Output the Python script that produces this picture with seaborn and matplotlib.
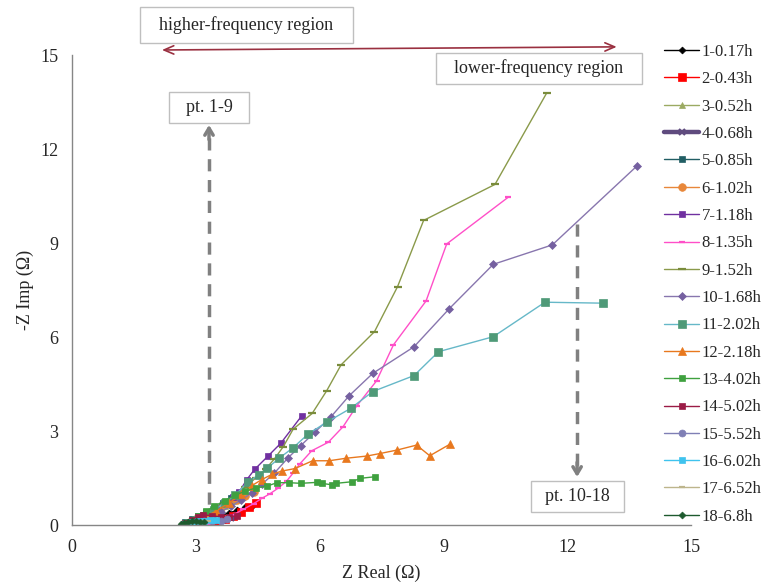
import matplotlib
matplotlib.use("Agg")
import matplotlib.pyplot as plt
from matplotlib.patches import Rectangle
from matplotlib.ticker import MultipleLocator
import seaborn as sns

# impedance spectra, Z real (ohm) vs -Z imp (ohm), one list per time step
labels = ["1-0.17h", "2-0.43h", "3-0.52h", "4-0.68h", "5-0.85h", "6-1.02h",
          "7-1.18h", "8-1.35h", "9-1.52h", "10-1.68h", "11-2.02h", "12-2.18h",
          "13-4.02h", "14-5.02h", "15-5.52h", "16-6.02h", "17-6.52h", "18-6.8h"]

x1 = [2.75, 2.85, 2.95, 3.05, 3.2, 3.4, 3.6, 3.8, 4.0, 4.2, 4.35]
y1 = [0.05, 0.12, 0.18, 0.22, 0.25, 0.27, 0.3, 0.38, 0.47, 0.56, 0.62]
x2 = [2.9, 3.1, 3.3, 3.5, 3.7, 3.9, 4.1, 4.3, 4.47]
y2 = [0.02, 0.0, 0.02, 0.08, 0.18, 0.3, 0.43, 0.57, 0.71]
x3 = [2.8, 2.95, 3.1, 3.3, 3.5, 3.7, 3.9]
y3 = [0.05, 0.15, 0.25, 0.35, 0.48, 0.62, 0.78]
x4 = [2.9, 3.05, 3.25, 3.45, 3.65, 3.85, 4.0]
y4 = [0.05, 0.1, 0.12, 0.12, 0.15, 0.22, 0.3]
x5 = [2.75, 2.9, 3.05, 3.25, 3.45, 3.65, 3.85, 4.05]
y5 = [0.1, 0.2, 0.3, 0.42, 0.55, 0.7, 0.86, 1.02]
x6 = [2.85, 3.0, 3.2, 3.4, 3.6, 3.8, 4.0, 4.2, 4.4]
y6 = [0.08, 0.18, 0.3, 0.42, 0.55, 0.68, 0.8, 0.92, 1.05]
x7 = [2.9, 3.1, 3.3, 3.5, 3.7, 3.89, 4.05, 4.23, 4.43, 4.75, 5.06, 5.57]
y7 = [0.1, 0.25, 0.4, 0.55, 0.72, 0.9, 1.05, 1.44, 1.78, 2.2, 2.61, 3.49]
x8 = [3.3, 3.6, 3.9, 4.15, 4.4, 4.6, 4.8, 5.0, 5.2, 5.36, 5.52, 5.81, 6.21,
      6.57, 6.90, 7.38, 7.79, 8.58, 9.08, 10.57]
y8 = [0.02, 0.15, 0.32, 0.5, 0.68, 0.85, 1.0, 1.18, 1.4, 1.66, 1.95, 2.37, 2.64,
      3.14, 3.80, 4.60, 5.75, 7.15, 8.97, 10.46]
x9 = [2.7, 2.85, 3.0, 3.2, 3.45, 3.7, 3.95, 4.2, 4.45, 4.7, 4.9, 5.12, 5.36,
      5.82, 6.17, 6.52, 7.33, 7.89, 8.52, 10.25, 11.5]
y9 = [0.02, 0.1, 0.2, 0.35, 0.52, 0.72, 0.95, 1.2, 1.5, 1.8, 2.1, 2.5, 3.06,
      3.56, 4.28, 5.11, 6.17, 7.61, 9.72, 10.87, 13.78]
x10 = [2.9, 3.1, 3.35, 3.6, 3.85, 4.1, 4.35, 4.6, 4.9, 5.24, 5.54, 5.90, 6.28,
       6.72, 7.29, 8.29, 9.14, 10.21, 11.64, 13.70]
y10 = [0.05, 0.15, 0.28, 0.42, 0.6, 0.8, 1.02, 1.3, 1.65, 2.15, 2.53, 2.98, 3.46,
       4.13, 4.84, 5.69, 6.9, 8.32, 8.94, 11.47]
x11 = [2.8, 3.0, 3.2, 3.45, 3.7, 3.95, 4.27, 4.53, 4.73, 5.02, 5.36, 5.72, 6.17,
       6.75, 7.29, 8.29, 8.88, 10.21, 11.46, 12.86]
y11 = [0.05, 0.15, 0.3, 0.48, 0.7, 0.95, 1.38, 1.6, 1.81, 2.13, 2.47, 2.9, 3.28,
       3.72, 4.26, 4.77, 5.53, 6.01, 7.11, 7.08]
x12 = [2.9, 3.05, 3.25, 3.5, 3.8, 4.1, 4.35, 4.6, 4.85, 5.08, 5.40, 5.83, 6.23,
       6.64, 7.14, 7.46, 7.87, 8.35, 8.67, 9.16]
y12 = [0.05, 0.15, 0.28, 0.45, 0.7, 0.98, 1.25, 1.45, 1.62, 1.72, 1.80, 2.05, 2.05,
       2.13, 2.20, 2.28, 2.39, 2.55, 2.21, 2.58]
x13 = [2.75, 2.9, 3.05, 3.25, 3.45, 3.7, 3.95, 4.2, 4.45, 4.72, 4.97, 5.27, 5.54,
       5.93, 6.05, 6.31, 6.40, 6.78, 6.99, 7.34]
y13 = [0.05, 0.15, 0.3, 0.45, 0.6, 0.78, 0.95, 1.08, 1.18, 1.24, 1.35, 1.35, 1.33,
       1.36, 1.33, 1.28, 1.33, 1.38, 1.49, 1.54]
x14 = [2.75, 2.9, 3.05, 3.18, 3.4, 3.6, 3.8, 3.99]
y14 = [0.05, 0.15, 0.25, 0.32, 0.3, 0.25, 0.27, 0.29]
x15 = [2.7, 2.85, 3.0, 3.2, 3.4, 3.6, 3.75]
y15 = [0.02, 0.06, 0.1, 0.12, 0.12, 0.14, 0.18]
x16 = [2.75, 2.9, 3.05, 3.2, 3.35, 3.5]
y16 = [0.03, 0.08, 0.12, 0.14, 0.15, 0.17]
x17 = [2.7, 2.85, 3.0, 3.15, 3.3]
y17 = [0.02, 0.06, 0.1, 0.12, 0.14]
x18 = [2.65, 2.72, 2.8, 2.9, 3.0, 3.1, 3.2]
y18 = [0.02, 0.06, 0.1, 0.12, 0.12, 0.1, 0.08]

xs = [x1, x2, x3, x4, x5, x6, x7, x8, x9, x10, x11, x12, x13, x14, x15, x16, x17, x18]
ys = [y1, y2, y3, y4, y5, y6, y7, y8, y9, y10, y11, y12, y13, y14, y15, y16, y17, y18]

# (line colour, marker, marker colour, marker size, line width)
styles = [
    ("#000000", "D", "#000000", 3.5, 1.0),
    ("#FF0000", "s", "#FF0000", 5.5, 1.0),
    ("#9BAA62", "^", "#9BAA62", 5.0, 1.0),
    ("#5F4B7E", "x", "#5F4B7E", 5.0, 3.2),
    ("#215E64", "s", "#215E64", 4.5, 1.0),
    ("#E8873A", "o", "#E8873A", 5.5, 1.0),
    ("#7030A0", "s", "#7030A0", 5.0, 1.0),
    ("#FF4FC8", "_", "#FF4FC8", 4.5, 1.0),
    ("#8A9A4A", "_", "#7A8C3C", 5.5, 1.0),
    ("#8876AE", "D", "#7560A0", 4.0, 1.0),
    ("#66B8C8", "s", "#4F9A78", 6.0, 1.0),
    ("#E8781E", "^", "#E8781E", 6.0, 1.0),
    ("#3FA13F", "s", "#3FA13F", 5.0, 1.0),
    ("#9B1B46", "s", "#9B1B46", 5.0, 1.0),
    ("#7F7FB5", "o", "#7F7FB5", 5.0, 1.0),
    ("#3FC3EE", "s", "#3FC3EE", 5.0, 1.0),
    ("#BDB58C", "_", "#BDB58C", 4.0, 1.0),
    ("#1E5A2E", "D", "#1E5A2E", 3.5, 1.0),
]

sns.set_style("white")
plt.rcParams["font.family"] = ["Liberation Serif", "DejaVu Serif"]

fig = plt.figure(figsize=(7.64, 5.82), dpi=100)
ax = fig.add_axes([72 / 764, 1 - 525 / 582, 619 / 764, 470 / 582])

for lab, x, y, (lc, mk, mc, ms, lw) in zip(labels, xs, ys, styles):
    sns.lineplot(x=x, y=y, sort=False, estimator=None, ax=ax, label=lab,
                 color=lc, linewidth=lw, marker=mk, markersize=ms,
                 markerfacecolor=mc, markeredgecolor=mc,
                 markeredgewidth=1.6 if mk in ("_", "x") else 0.5)

ax.set_xlim(0, 15)
ax.set_ylim(0, 15)
ax.xaxis.set_major_locator(MultipleLocator(3))
ax.xaxis.set_minor_locator(MultipleLocator(1))
ax.yaxis.set_major_locator(MultipleLocator(3))
ax.tick_params(axis="both", which="both", direction="out", length=4,
               width=1, color="#868686", labelsize=13, pad=6)
for side in ("top", "right"):
    ax.spines[side].set_visible(False)
for side in ("left", "bottom"):
    ax.spines[side].set_color("#868686")
    ax.spines[side].set_linewidth(1)
ax.set_xlabel("Z Real (\u03a9)", fontsize=13, labelpad=6)
ax.set_ylabel("-Z Imp (\u03a9)", fontsize=13, labelpad=4)

# frequency-region arrow along the top
ax.annotate("", xy=(2.18, 15.16), xytext=(13.2, 15.26), annotation_clip=False,
            arrowprops=dict(arrowstyle="<->,head_length=0.7,head_width=0.3",
                            color="#9A3040", lw=1.2, shrinkA=0, shrinkB=0))

# dashed gray pointers
gray = "#808080"
ax.plot([3.32, 3.32], [0.0, 12.45], color=gray, lw=2.5, ls=(0, (3.5, 2.5)), zorder=0)
ax.annotate("", xy=(3.32, 12.77), xytext=(3.32, 12.3), annotation_clip=False,
            arrowprops=dict(arrowstyle="->,head_length=0.5,head_width=0.3",
                            color=gray, lw=2.5, shrinkA=0, shrinkB=0))
ax.plot([12.24, 12.24], [9.61, 1.85], color=gray, lw=2.5, ls=(0, (3.5, 2.5)), zorder=0)
ax.annotate("", xy=(12.24, 1.53), xytext=(12.24, 2.0), annotation_clip=False,
            arrowprops=dict(arrowstyle="->,head_length=0.5,head_width=0.3",
                            color=gray, lw=2.5, shrinkA=0, shrinkB=0))

# text boxes, positions in pixels of the 764x582 canvas
W, H = 764, 582
boxes = [("higher-frequency region", 140, 7, 213, 36),
         ("lower-frequency region", 436, 53, 206, 31),
         ("pt. 1-9", 169, 92, 80, 31),
         ("pt. 10-18", 531, 481, 93, 31)]
for txt, bx, by, bw, bh in boxes:
    fig.patches.append(Rectangle((bx / W, 1 - (by + bh) / H), bw / W, bh / H,
                                 transform=fig.transFigure, facecolor="white",
                                 edgecolor="#BFBFBF", lw=1, zorder=5))
    fig.text((bx + bw / 2) / W, 1 - (by + bh / 2) / H, txt, ha="center",
             va="center", fontsize=13, zorder=6)

ax.get_legend().remove()
handles, labs = ax.get_legend_handles_labels()
fig.legend(handles, labs, loc="upper left", bbox_to_anchor=(664 / W, 1 - 44 / H),
           frameon=False, fontsize=12, handlelength=2.1, handletextpad=0.15,
           labelspacing=0.68, borderaxespad=0, borderpad=0)

fig.savefig("out.png", dpi=100)
